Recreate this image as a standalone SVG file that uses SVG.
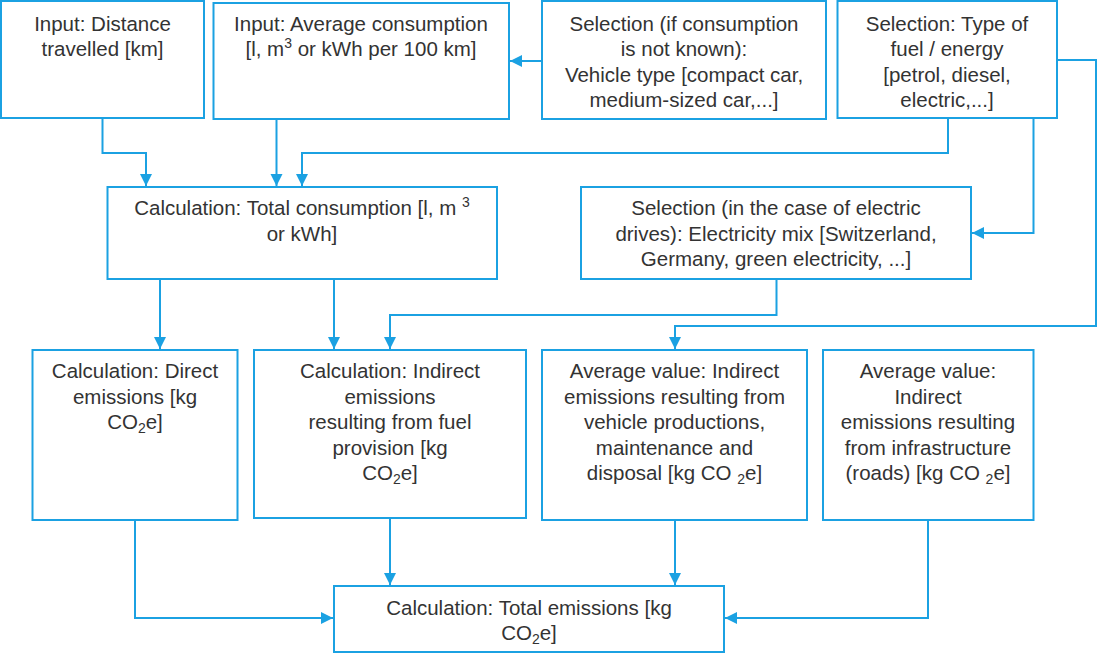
<svg xmlns="http://www.w3.org/2000/svg" width="1110" height="672" viewBox="0 0 1110 672">
<style>
  .box { fill: #ffffff; stroke: #1BA1E2; stroke-width: 2; }
  .t { font-family: "Liberation Sans", Arial, sans-serif; font-size: 20.5px; fill: #333333; text-anchor: middle; }
  .s { font-size: 14px; }
  .c { fill: none; stroke: #1BA1E2; stroke-width: 2; marker-end: url(#ah); }
</style>
<defs>
  <marker id="ah" markerUnits="userSpaceOnUse" markerWidth="13" markerHeight="13" viewBox="0 0 13 13" refX="12" refY="6.5" orient="auto">
    <path d="M0,0.5 L12,6.5 L0,12.5 z" fill="#1BA1E2"/>
  </marker>
</defs>
<rect width="1110" height="672" fill="#ffffff"/>

<g id="connectors">
  <path class="c" d="M102.5,118 V153 H146 V186"/>
  <path class="c" d="M276.5,119 V186"/>
  <path class="c" d="M948,118 V153 H302 V186"/>
  <path class="c" d="M542,61 H510"/>
  <path class="c" d="M1033.5,118 V233 H972"/>
  <path class="c" d="M1057,60 H1096 V326 H675 V349"/>
  <path class="c" d="M160,279 V349"/>
  <path class="c" d="M334,279 V349"/>
  <path class="c" d="M776.5,279 V315 H390 V349"/>
  <path class="c" d="M135,520 V618 H333"/>
  <path class="c" d="M390,518 V585"/>
  <path class="c" d="M675,520 V585"/>
  <path class="c" d="M928,520 V618 H725"/>
</g>

<g id="n_distance">
  <rect class="box" x="1" y="1" width="203" height="117"/>
  <text class="t" x="102.5" y="31">Input: Distance</text>
  <text class="t" x="102.5" y="56.3">travelled [km]</text>
</g>

<g id="n_avgcons">
  <rect class="box" x="213.5" y="3" width="295.5" height="116"/>
  <text class="t" x="361" y="31">Input: Average consumption</text>
  <text class="t" x="361" y="56.3">[l, m<tspan class="s" dy="-8">3</tspan><tspan dy="8"> or kWh per 100 km]</tspan></text>
</g>

<g id="n_vehicle">
  <rect class="box" x="542" y="1" width="284" height="118"/>
  <text class="t" x="684" y="31">Selection (if consumption</text>
  <text class="t" x="684" y="56.3">is not known):</text>
  <text class="t" x="684" y="81.6">Vehicle type [compact car,</text>
  <text class="t" x="684" y="106.9">medium-sized car,...]</text>
</g>

<g id="n_fuel">
  <rect class="box" x="837.5" y="1" width="219.5" height="117"/>
  <text class="t" x="947" y="31">Selection: Type of</text>
  <text class="t" x="947" y="56.3">fuel / energy</text>
  <text class="t" x="947" y="81.6">[petrol, diesel,</text>
  <text class="t" x="947" y="106.9">electric,...]</text>
</g>

<g id="n_totalcons">
  <rect class="box" x="107.5" y="187" width="389.5" height="92"/>
  <text class="t" x="302" y="215">Calculation: Total consumption [l, m <tspan class="s" dy="-8">3</tspan></text>
  <text class="t" x="302" y="240.5">or kWh]</text>
</g>

<g id="n_elecmix">
  <rect class="box" x="581" y="187" width="390" height="92"/>
  <text class="t" x="776" y="215">Selection (in the case of electric</text>
  <text class="t" x="776" y="240.5">drives): Electricity mix [Switzerland,</text>
  <text class="t" x="776" y="266">Germany, green electricity, ...]</text>
</g>

<g id="n_direct">
  <rect class="box" x="32.5" y="350" width="205" height="170"/>
  <text class="t" x="135" y="378">Calculation: Direct</text>
  <text class="t" x="135" y="403.5">emissions [kg</text>
  <text class="t" x="135" y="429">CO<tspan class="s" dy="4">2</tspan><tspan dy="-4">e]</tspan></text>
</g>

<g id="n_indirect_fuel">
  <rect class="box" x="254" y="350" width="272" height="168"/>
  <text class="t" x="390" y="378">Calculation: Indirect</text>
  <text class="t" x="390" y="403.5">emissions</text>
  <text class="t" x="390" y="429">resulting from fuel</text>
  <text class="t" x="390" y="454.5">provision [kg</text>
  <text class="t" x="390" y="480">CO<tspan class="s" dy="4">2</tspan><tspan dy="-4">e]</tspan></text>
</g>

<g id="n_vehicle_prod">
  <rect class="box" x="542" y="350" width="265" height="170"/>
  <text class="t" x="674.5" y="378">Average value: Indirect</text>
  <text class="t" x="674.5" y="403.5">emissions resulting from</text>
  <text class="t" x="674.5" y="429">vehicle productions,</text>
  <text class="t" x="674.5" y="454.5">maintenance and</text>
  <text class="t" x="674.5" y="480">disposal [kg CO <tspan class="s" dy="4">2</tspan><tspan dy="-4">e]</tspan></text>
</g>

<g id="n_infra">
  <rect class="box" x="823" y="350" width="210.5" height="170"/>
  <text class="t" x="928" y="378">Average value:</text>
  <text class="t" x="928" y="403.5">Indirect</text>
  <text class="t" x="928" y="429">emissions resulting</text>
  <text class="t" x="928" y="454.5">from infrastructure</text>
  <text class="t" x="928" y="480">(roads) [kg CO <tspan class="s" dy="4">2</tspan><tspan dy="-4">e]</tspan></text>
</g>

<g id="n_total">
  <rect class="box" x="334" y="586" width="390" height="66"/>
  <text class="t" x="529" y="615">Calculation: Total emissions [kg</text>
  <text class="t" x="529" y="640">CO<tspan class="s" dy="4">2</tspan><tspan dy="-4">e]</tspan></text>
</g>
</svg>
